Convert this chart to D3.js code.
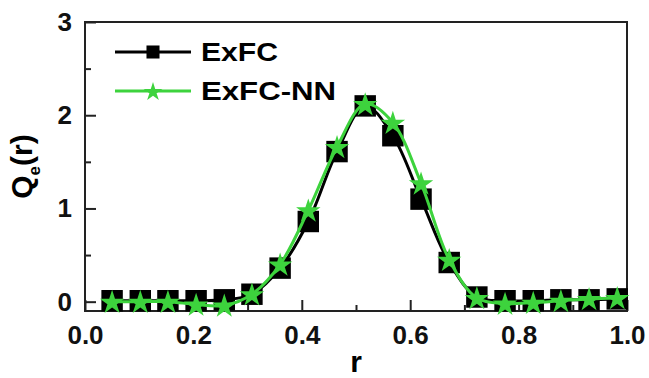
<!DOCTYPE html>
<html>
<head>
<meta charset="utf-8">
<script src="https://cdn.jsdelivr.net/npm/d3@7"></script>
<style>
  body { margin: 0; background: #fff; }
  svg { font-family: "Liberation Sans", Arial, sans-serif; font-weight: bold; }
  .axis path, .axis line { stroke: #222; stroke-width: 2; }
  .axis text { font-size: 26px; font-weight: bold; fill: #111; }
</style>
</head>
<body>
<div id="chart"></div>
<script>
// r positions of the points
var rVals = [0.05, 0.102, 0.153, 0.205, 0.257, 0.308, 0.36, 0.412, 0.465, 0.517,
             0.568, 0.62, 0.672, 0.723, 0.775, 0.827, 0.878, 0.93, 0.982];
// ExFC values (black squares)
var exfcVals = [0.01, 0.01, 0.01, 0.01, 0.02, 0.08, 0.36, 0.86, 1.61, 2.1,
                1.78, 1.1, 0.42, 0.05, 0.01, 0.01, 0.02, 0.02, 0.03];
// ExFC-NN values (green stars)
var exfcNNVals = [0.0, 0.0, 0.0, -0.03, -0.04, 0.08, 0.4, 0.98, 1.66, 2.12,
                  1.92, 1.27, 0.45, 0.04, -0.02, -0.01, 0.01, 0.03, 0.04];
var seriesNames = ['ExFC', 'ExFC-NN'];
var xTicks = [0.0, 0.2, 0.4, 0.6, 0.8, 1.0];
var xMinor = [0.1, 0.3, 0.5, 0.7, 0.9];
var yTicks = [0, 1, 2, 3];
var yMinor = [0.5, 1.5, 2.5];

var W = 649, H = 378;
var margin = { top: 22, right: 22, bottom: 67, left: 85 };
var width = W - margin.left - margin.right;
var height = H - margin.top - margin.bottom;
var green = '#3dd33d';

var svg = d3.select('#chart').append('svg')
  .attr('width', W)
  .attr('height', H)
  .append('g')
  .attr('transform', 'translate(' + margin.left + ',' + margin.top + ')');

var x = d3.scaleLinear().domain([0, 1]).range([0, width]);
var y = d3.scaleLinear().domain([-0.1, 3]).range([height, 0]);

// frame
svg.append('rect')
  .attr('width', width)
  .attr('height', height)
  .attr('fill', 'none')
  .attr('stroke', '#222')
  .attr('stroke-width', 2);

// x axis, ticks pointing inward
svg.append('g')
  .attr('class', 'axis')
  .attr('transform', 'translate(0,' + height + ')')
  .call(d3.axisBottom(x).tickValues(xTicks).tickFormat(d3.format('.1f'))
    .tickSizeInner(-11).tickSizeOuter(0).tickPadding(15))
  .call(function(g) { g.select('.domain').remove(); });
svg.append('g')
  .attr('class', 'axis')
  .attr('transform', 'translate(0,' + height + ')')
  .call(d3.axisBottom(x).tickValues(xMinor).tickFormat('').tickSizeInner(-6).tickSizeOuter(0))
  .call(function(g) { g.select('.domain').remove(); });

// y axis
svg.append('g')
  .attr('class', 'axis')
  .call(d3.axisLeft(y).tickValues(yTicks).tickFormat(d3.format('d'))
    .tickSizeInner(-11).tickSizeOuter(0).tickPadding(13))
  .call(function(g) { g.select('.domain').remove(); });
svg.append('g')
  .attr('class', 'axis')
  .call(d3.axisLeft(y).tickValues(yMinor).tickFormat('').tickSizeInner(-6).tickSizeOuter(0))
  .call(function(g) { g.select('.domain').remove(); });

// axis titles
svg.append('text')
  .attr('x', x(0.5))
  .attr('y', height + 61)
  .attr('text-anchor', 'middle')
  .attr('font-size', 30)
  .text('r');

var yt = svg.append('text')
  .attr('transform', 'translate(' + (-53) + ',' + (height / 2) + ') rotate(-90)')
  .attr('text-anchor', 'middle')
  .attr('font-size', 30);
yt.append('tspan').text('Q');
yt.append('tspan').attr('font-size', 17).attr('dy', 8).text('e');
yt.append('tspan').attr('dy', -8).text('(r)');

var exfc = rVals.map(function(r, i) { return { r: r, v: exfcVals[i] }; });
var exfcNN = rVals.map(function(r, i) { return { r: r, v: exfcNNVals[i] }; });

var line = d3.line()
  .x(function(d) { return x(d.r); })
  .y(function(d) { return y(d.v); })
  .curve(d3.curveCatmullRom);

// ExFC
svg.append('path')
  .datum(exfc)
  .attr('fill', 'none')
  .attr('stroke', '#000')
  .attr('stroke-width', 3)
  .attr('d', line);
svg.selectAll('.sq')
  .data(exfc)
  .enter().append('path')
  .attr('class', 'sq')
  .attr('transform', function(d) { return 'translate(' + x(d.r) + ',' + y(d.v) + ')'; })
  .attr('d', d3.symbol(d3.symbolSquare, 460))
  .attr('fill', '#000');

// ExFC-NN
svg.append('path')
  .datum(exfcNN)
  .attr('fill', 'none')
  .attr('stroke', green)
  .attr('stroke-width', 3)
  .attr('d', line);
svg.selectAll('.st')
  .data(exfcNN)
  .enter().append('path')
  .attr('class', 'st')
  .attr('transform', function(d) { return 'translate(' + x(d.r) + ',' + (y(d.v) + 1) + ')'; })
  .attr('d', d3.symbol(d3.symbolStar, 185))
  .attr('fill', green);

// legend
var legend = svg.append('g').attr('transform', 'translate(30,30)');
var legendItems = [
  { name: seriesNames[0], color: '#000', sym: d3.symbol(d3.symbolSquare, 170), len: 77 },
  { name: seriesNames[1], color: green, sym: d3.symbol(d3.symbolStar, 110), len: 135 }
];
legendItems.forEach(function(d, i) {
  var g = legend.append('g').attr('transform', 'translate(0,' + (i * 39) + ')');
  g.append('line')
    .attr('x1', 0).attr('x2', 76)
    .attr('stroke', d.color)
    .attr('stroke-width', 3);
  g.append('path')
    .attr('transform', 'translate(38,' + (i ? 1 : 0) + ')')
    .attr('d', d.sym)
    .attr('fill', d.color);
  g.append('text')
    .attr('x', 86)
    .attr('y', 9)
    .attr('font-size', 25)
    .attr('textLength', d.len)
    .attr('lengthAdjust', 'spacingAndGlyphs')
    .text(d.name);
});
</script>
</body>
</html>
